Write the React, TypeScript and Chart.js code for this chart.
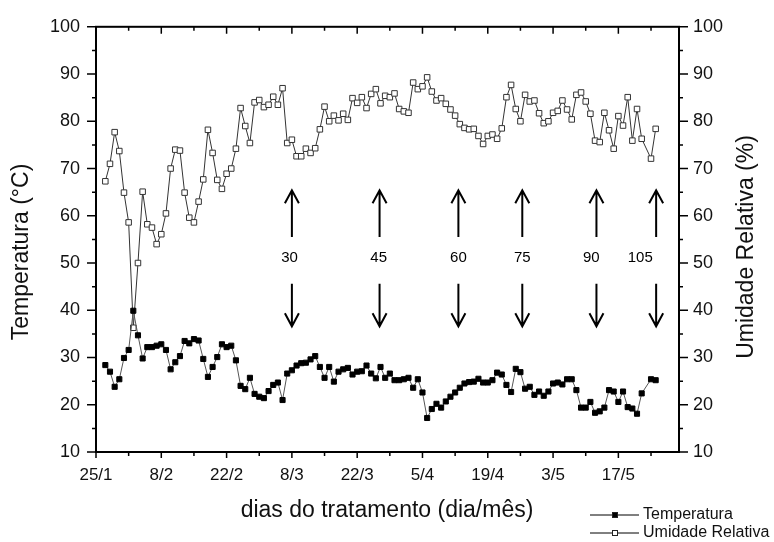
import React, { useEffect, useRef } from 'react';
import { Chart, registerables } from 'chart.js';

Chart.register(...registerables);

// days counted from 25/1
const days = [
  2, 3, 4, 5, 6, 7, 8, 9, 10, 11, 12, 13, 14, 15, 16, 17, 18, 19, 20, 21,
  22, 23, 24, 25, 26, 27, 28, 29, 30, 31, 32, 33, 34, 35, 36, 37, 38, 39, 40, 41,
  42, 43, 44, 45, 46, 47, 48, 49, 50, 51, 52, 53, 54, 55, 56, 57, 58, 59, 60, 61,
  62, 63, 64, 65, 66, 67, 68, 69, 70, 71, 72, 73, 74, 75, 76, 77, 78, 79, 80, 81,
  82, 83, 84, 85, 86, 87, 88, 89, 90, 91, 92, 93, 94, 95, 96, 97, 98, 99, 100, 101,
  102, 103, 104, 105, 106, 107, 108, 109, 110, 111, 112, 113, 114, 115, 116, 117, 119, 120,
];

const temperatura = [
  28.4, 27.0, 23.8, 25.4, 29.9, 31.6, 39.9, 34.7, 29.8, 32.2, 32.2, 32.5, 32.8, 31.6, 27.5, 29.0, 30.3, 33.5, 33.0, 33.9,
  33.6, 29.7, 25.9, 28.0, 30.1, 32.8, 32.2, 32.5, 29.4, 24.0, 23.3, 25.7, 22.3, 21.7, 21.4, 22.9, 24.2, 24.7, 21.0, 26.6,
  27.3, 28.3, 28.8, 28.9, 29.6, 30.3, 28.0, 25.7, 28.0, 24.9, 27.0, 27.5, 27.8, 26.4, 27.0, 27.1, 28.3, 26.6, 25.6, 28.0,
  25.7, 26.6, 25.2, 25.2, 25.4, 25.7, 23.6, 25.4, 22.6, 17.2, 19.1, 20.2, 19.4, 20.7, 21.7, 22.6, 23.6, 24.5, 24.8, 24.9,
  25.5, 24.7, 24.7, 25.2, 26.8, 26.4, 24.2, 22.7, 27.6, 26.9, 23.4, 23.8, 22.1, 22.8, 21.9, 22.8, 24.5, 24.7, 24.3, 25.4,
  25.4, 23.1, 19.4, 19.4, 20.6, 18.3, 18.6, 19.4, 23.1, 22.8, 20.6, 22.8, 19.5, 19.2, 18.1, 22.4, 25.4, 25.2,
];

const umidade = [
  67.3, 71.0, 77.7, 73.7, 64.9, 58.6, 36.3, 50.0, 65.1, 58.2, 57.5, 54.0, 56.1, 60.5, 70.0, 74.0, 73.8, 64.9, 59.6, 58.6,
  63.0, 67.7, 78.2, 73.3, 67.6, 65.7, 68.9, 70.0, 74.2, 82.8, 79.0, 75.4, 84.0, 84.5, 83.0, 83.5, 85.2, 83.5, 87.0, 75.4,
  76.1, 72.6, 72.6, 74.2, 73.3, 74.3, 78.3, 83.1, 80.0, 81.2, 80.2, 81.6, 80.3, 84.9, 83.9, 85.1, 82.8, 85.8, 86.8, 83.8,
  85.4, 85.1, 85.9, 82.6, 82.1, 81.8, 88.2, 86.8, 87.4, 89.3, 86.3, 84.4, 84.9, 83.7, 82.5, 81.2, 79.4, 78.6, 78.3, 78.4,
  76.9, 75.2, 76.9, 77.2, 76.3, 78.5, 85.1, 87.7, 82.6, 80.0, 85.6, 84.2, 84.4, 81.7, 79.6, 80.0, 81.8, 82.2, 84.4, 82.5,
  80.4, 85.6, 86.1, 84.2, 81.6, 75.9, 75.6, 81.8, 78.1, 74.2, 81.1, 79.1, 85.1, 75.9, 82.6, 76.3, 72.1, 78.4,
];

const xTickValues = [0, 14, 28, 42, 56, 70, 84, 98, 112];
const xTickLabels = ['25/1', '8/2', '22/2', '8/3', '22/3', '5/4', '19/4', '3/5', '17/5'];
const xMinorTicks = [7, 21, 35, 49, 63, 77, 91, 105, 119];
const yTickValues = [10, 20, 30, 40, 50, 60, 70, 80, 90, 100];
const yMinorTicks = [15, 25, 35, 45, 55, 65, 75, 85, 95];

const arrowDays = [42, 60.8, 77.7, 91.4, 107.3, 120.1];
const arrowLabelDays = [41.5, 60.6, 77.7, 91.4, 106.2, 116.7];
const arrowLabels = ['30', '45', '60', '75', '90', '105'];
const arrowUp = [55.5, 65.4];
const arrowDown = [45.6, 36.6];
const arrowLabelY = 51.1;

const FONT = '"Liberation Sans", Arial, Helvetica, sans-serif';

const decorPlugin = {
  id: 'decor',
  afterDraw(chart: any) {
    const { ctx, chartArea } = chart;
    const { left, right, top, bottom } = chartArea;
    const xs = chart.scales.x;
    const ys = chart.scales.y;
    ctx.save();
    ctx.strokeStyle = '#000';
    // frame
    ctx.lineWidth = 2;
    ctx.strokeRect(left, top, right - left, bottom - top);
    // ticks
    ctx.lineWidth = 1.5;
    ctx.beginPath();
    xTickValues.forEach((v) => {
      const p = xs.getPixelForValue(v);
      ctx.moveTo(p, bottom); ctx.lineTo(p, bottom + 6);
      ctx.moveTo(p, top); ctx.lineTo(p, top + 7);
    });
    xMinorTicks.forEach((v) => {
      const p = xs.getPixelForValue(v);
      ctx.moveTo(p, bottom); ctx.lineTo(p, bottom + 4);
      ctx.moveTo(p, top); ctx.lineTo(p, top + 4);
    });
    yTickValues.forEach((v) => {
      const p = ys.getPixelForValue(v);
      ctx.moveTo(left, p); ctx.lineTo(left - 9, p);
      ctx.moveTo(right, p); ctx.lineTo(right + 9, p);
    });
    yMinorTicks.forEach((v) => {
      const p = ys.getPixelForValue(v);
      ctx.moveTo(left, p); ctx.lineTo(left - 4, p);
      ctx.moveTo(right, p); ctx.lineTo(right + 4, p);
    });
    ctx.stroke();

    // arrows
    ctx.lineWidth = 2;
    const arrow = (x: number, yTail: number, yTip: number) => {
      const dir = yTip < yTail ? 1 : -1;
      ctx.beginPath();
      ctx.moveTo(x, yTail); ctx.lineTo(x, yTip);
      ctx.moveTo(x - 7, yTip + dir * 13); ctx.lineTo(x, yTip); ctx.lineTo(x + 7, yTip + dir * 13);
      ctx.stroke();
    };
    arrowDays.forEach((d) => {
      const px = xs.getPixelForValue(d);
      arrow(px, ys.getPixelForValue(arrowUp[0]), ys.getPixelForValue(arrowUp[1]));
      arrow(px, ys.getPixelForValue(arrowDown[0]), ys.getPixelForValue(arrowDown[1]));
    });
    ctx.fillStyle = '#000';
    ctx.font = `15px ${FONT}`;
    ctx.textAlign = 'center';
    ctx.textBaseline = 'middle';
    arrowLabels.forEach((t, i) => {
      ctx.fillText(t, xs.getPixelForValue(arrowLabelDays[i]), ys.getPixelForValue(arrowLabelY));
    });

    // axis titles
    ctx.fillStyle = '#111';
    ctx.font = `23px ${FONT}`;
    ctx.textAlign = 'center';
    ctx.textBaseline = 'middle';
    ctx.fillText('dias do tratamento (dia/mês)', 387, 511);
    ctx.textBaseline = 'alphabetic';
    ctx.save();
    ctx.translate(28, 252);
    ctx.rotate(-Math.PI / 2);
    ctx.fillText('Temperatura (°C)', 0, 0);
    ctx.restore();
    ctx.save();
    ctx.translate(753, 247);
    ctx.rotate(-Math.PI / 2);
    ctx.fillText('Umidade Relativa (%)', 0, 0);
    ctx.restore();

    // legend
    const legend = [
      { label: 'Temperatura', y: 515, fill: '#000' },
      { label: 'Umidade Relativa', y: 533, fill: '#fff' },
    ];
    ctx.font = `16px ${FONT}`;
    ctx.textAlign = 'left';
    ctx.textBaseline = 'middle';
    legend.forEach((l) => {
      ctx.strokeStyle = '#000';
      ctx.lineWidth = 1;
      ctx.beginPath();
      ctx.moveTo(590, l.y); ctx.lineTo(639, l.y);
      ctx.stroke();
      ctx.fillStyle = l.fill;
      ctx.fillRect(612, l.y - 3, 6, 6);
      ctx.strokeStyle = '#222';
      ctx.strokeRect(612.5, l.y - 2.5, 5, 5);
      ctx.fillStyle = '#111';
      ctx.fillText(l.label, 643, l.y);
    });
    ctx.restore();
  },
};

export default function App() {
  const ref = useRef<HTMLCanvasElement | null>(null);
  useEffect(() => {
    if (!ref.current) return;
    const chart = new Chart(ref.current, {
      type: 'line',
      data: {
        datasets: [
          {
            label: 'Temperatura',
            data: days.map((d, i) => ({ x: d, y: temperatura[i] })),
            yAxisID: 'y',
            borderColor: '#555',
            borderWidth: 1,
            pointStyle: 'rect',
            pointRadius: 3.6,
            pointBackgroundColor: '#000',
            pointBorderColor: '#000',
            pointBorderWidth: 1,
            tension: 0,
          },
          {
            label: 'Umidade Relativa',
            data: days.map((d, i) => ({ x: d, y: umidade[i] })),
            yAxisID: 'y1',
            borderColor: '#333',
            borderWidth: 1,
            pointStyle: 'rect',
            pointRadius: 3.9,
            pointBackgroundColor: '#fff',
            pointBorderColor: '#333',
            pointBorderWidth: 1,
            tension: 0,
          },
        ],
      },
      options: {
        responsive: false,
        animation: false,
        devicePixelRatio: 1,
        layout: { padding: { top: 24, left: 0, right: 0, bottom: 0 } },
        plugins: { legend: { display: false }, tooltip: { enabled: false } },
        scales: {
          x: {
            type: 'linear',
            position: 'bottom',
            min: 0,
            max: 125,
            grid: { display: false, drawTicks: false },
            border: { display: false },
            afterBuildTicks: (s: any) => { s.ticks = xTickValues.map((v) => ({ value: v })); },
            afterFit: (s: any) => { s.height = 90; },
            ticks: {
              autoSkip: false,
              maxRotation: 0,
              padding: 13,
              color: '#111',
              font: { family: FONT, size: 17 },
              callback: (_v: any, i: number) => xTickLabels[i],
            },
          },
          y: {
            type: 'linear',
            position: 'left',
            min: 10,
            max: 100,
            grid: { display: false, drawTicks: false },
            border: { display: false },
            afterBuildTicks: (s: any) => { s.ticks = yTickValues.map((v) => ({ value: v })); },
            afterFit: (s: any) => { s.width = 96; },
            ticks: { padding: 16, color: '#111', font: { family: FONT, size: 18 } },
          },
          y1: {
            type: 'linear',
            position: 'right',
            min: 10,
            max: 100,
            grid: { display: false, drawTicks: false },
            border: { display: false },
            afterBuildTicks: (s: any) => { s.ticks = yTickValues.map((v) => ({ value: v })); },
            afterFit: (s: any) => { s.width = 95; },
            ticks: { padding: 14, color: '#111', font: { family: FONT, size: 18 } },
          },
        },
      },
      plugins: [decorPlugin],
    } as any);
    return () => chart.destroy();
  }, []);
  return (
    <div style={{ position: 'absolute', left: 0, top: 0, width: 774, height: 542, background: '#fff' }}>
      <canvas ref={ref} width={774} height={542} style={{ display: 'block' }} />
    </div>
  );
}
